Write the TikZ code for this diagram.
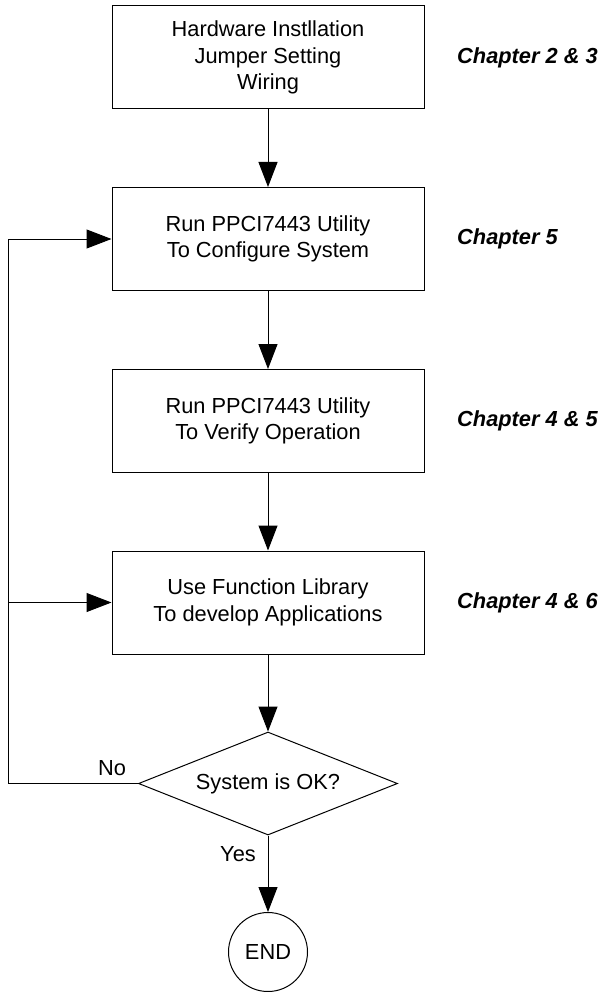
\documentclass[tikz,border=0pt]{standalone}
\usepackage{fontspec}
\setmainfont{Liberation Sans}
\usepackage{tikz}
\usetikzlibrary{arrows.meta,shapes.geometric}

\tikzset{
    blk/.style={draw,rectangle,line width=1pt,minimum width=312pt,minimum height=103pt,align=center,inner sep=0pt},
    dec/.style={draw,diamond,line width=1pt,minimum width=259pt,minimum height=103pt,aspect=2.5,inner sep=0pt},
    term/.style={draw,circle,line width=1pt,minimum size=79pt,inner sep=0pt},
    chap/.style={anchor=west,inner sep=0pt,font=\fontsize{21.8}{26.3}\selectfont\bfseries\itshape},
    lbl/.style={inner sep=0pt},
    flow/.style={line width=1pt,-{Triangle[length=25pt,width=19pt]}}
}

\begin{document}
\begin{tikzpicture}[x=1pt,y=1pt,font=\fontsize{21.8}{26.3}\selectfont]
    \useasboundingbox (0,0) rectangle (603,-992);
    \node[blk] (hw) at (268,-57.5) {Hardware Instllation\\Jumper Setting\\Wiring};
    \node[blk] (cfg) at (268,-239) {Run PPCI7443 Utility\\To Configure System};
    \node[blk] (verify) at (268,-421) {Run PPCI7443 Utility\\To Verify Operation};
    \node[blk] (lib) at (268,-602.5) {Use Function Library\\To develop Applications};
    \node[dec] (ok) at (268,-783.5) {System is OK?};
    \node[term] (stop) at (268,-952) {END};
    \coordinate (loop) at (8,-783.5);
    % chapter references
    \node[chap] (c1) at (457,-57.5) {Chapter 2 \& 3};
    \node[chap] (c2) at (457,-239) {Chapter 5};
    \node[chap] (c3) at (457,-421) {Chapter 4 \& 5};
    \node[chap] (c4) at (457,-602.5) {Chapter 4 \& 6};
    \draw[flow] (hw) -- (cfg);
    \draw[flow] (cfg) -- (verify);
    \draw[flow] (verify) -- (lib);
    \draw[flow] (lib) -- (ok);
    \draw[flow] (ok) -- (stop);
    \draw[flow] (ok.west) -- (loop) |- (cfg.west);
    \draw[flow] (loop |- lib.west) -- (lib.west);
    \node[lbl] (no) at (112,-768) {No};
    \node[lbl] (yes) at (238,-854) {Yes};
\end{tikzpicture}
\end{document}
